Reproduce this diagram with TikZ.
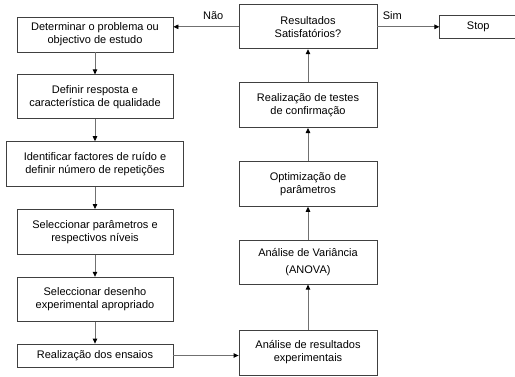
\documentclass[tikz,border=0pt]{standalone}
\usepackage{fontspec}
\setmainfont{Liberation Sans}
\usetikzlibrary{arrows.meta,positioning}
\definecolor{linegray}{HTML}{707070}
\definecolor{framegray}{HTML}{404040}
\tikzset{
  >={Triangle[length=5pt,width=4.5pt,color=black]},
  flow/.style={->,draw=linegray,line width=.8pt},
  stepbox/.style={draw=framegray,line width=.8pt,minimum width=156pt,minimum height=44pt,
                  align=center,inner sep=0pt,font=\fontsize{11}{13}\selectfont},
  rightbox/.style={stepbox,minimum width=138pt,minimum height=45pt},
  labeltext/.style={font=\fontsize{11}{13}\selectfont,inner sep=0pt},
}

\begin{document}
\begin{tikzpicture}[node distance=22pt]
  \useasboundingbox (0,0) rectangle (515pt,-376pt);
  % left column
  \node[stepbox,minimum height=35pt] (det) at (95pt,-34.5pt) {Determinar o problema ou\\objectivo de estudo};
  \node[stepbox,below=of det] (def) {Definir resposta e\\característica de qualidade};
  \node[stepbox,minimum width=177pt,minimum height=45pt,below=of def] (ide) {Identificar factores de ruído e\\definir número de repetições};
  \node[stepbox,minimum height=45pt,below=of ide] (sel) {Seleccionar parâmetros e\\respectivos níveis};
  \node[stepbox,below=of sel] (des) {Seleccionar desenho\\experimental apropriado};
  \node[stepbox,minimum height=23pt,below=of des] (rea) {Realização dos ensaios};
  % right column
  \node[rightbox] (anr) at (308pt,-352.5pt) {Análise de resultados\\experimentais};
  \node[rightbox,minimum height=44pt,above=45pt of anr] (ano) {Análise de Variância\\[4pt](ANOVA)};
  \node[rightbox,above=33pt of ano] (opt) {Optimização de\\parâmetros};
  \node[rightbox,above=33pt of opt] (tes) {Realização de testes\\de confirmação};
  \node[rightbox,minimum height=44pt,above=33pt of tes] (res) {Resultados\\Satisfatórios?};
  \node[stepbox,minimum width=77pt,minimum height=23pt,right=62pt of res] (stop) {Stop};
  \draw[flow] (det)--(def);
  \draw[flow] (def)--(ide);
  \draw[flow] (ide)--(sel);
  \draw[flow] (sel)--(des);
  \draw[flow] (des)--(rea);
  \draw[flow] (rea.east)--(rea.east -| anr.west);
  \draw[flow] (anr)--(ano);
  \draw[flow] (ano)--(opt);
  \draw[flow] (opt)--(tes);
  \draw[flow] (tes)--(res);
  \draw[flow] (res.west)--(res.west -| det.east)
      node[labeltext,pos=.39,above=7pt]{Não};
  \draw[flow] (res.east)--(stop.west)
      node[labeltext,pos=.24,above=7pt]{Sim};
\end{tikzpicture}
\end{document}
